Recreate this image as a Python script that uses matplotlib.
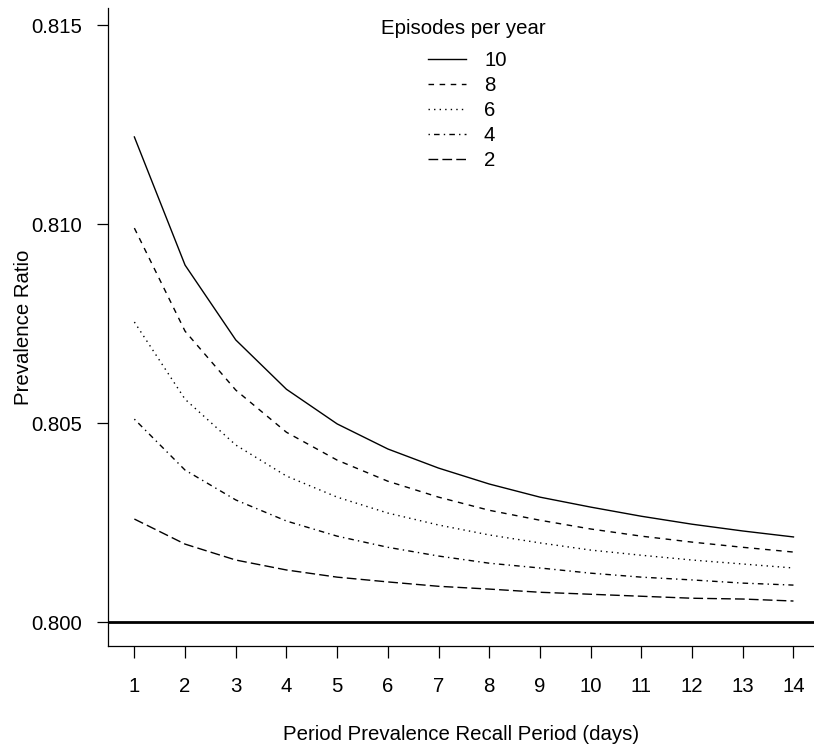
import numpy as np
import matplotlib
matplotlib.use('Agg')
import matplotlib.pyplot as plt

plt.rcParams['font.family'] = ['Liberation Sans', 'DejaVu Sans']

# recall period (days)
days = np.arange(1, 15)

# prevalence ratio for each number of episodes per year
pr_10 = [0.81219, 0.80897, 0.80709, 0.80585, 0.80498, 0.80435, 0.80387,
         0.80347, 0.80314, 0.80289, 0.80266, 0.80246, 0.80229, 0.80214]
pr_8 = [0.80990, 0.80731, 0.80583, 0.80477, 0.80407, 0.80354, 0.80314,
        0.80281, 0.80256, 0.80234, 0.80216, 0.80201, 0.80188, 0.80176]
pr_6 = [0.80754, 0.80560, 0.80445, 0.80367, 0.80314, 0.80274, 0.80244,
        0.80219, 0.80199, 0.80181, 0.80168, 0.80156, 0.80146, 0.80136]
pr_4 = [0.80510, 0.80382, 0.80307, 0.80254, 0.80216, 0.80188, 0.80166,
        0.80148, 0.80136, 0.80123, 0.80113, 0.80106, 0.80098, 0.80093]
pr_2 = [0.80259, 0.80196, 0.80156, 0.80131, 0.80113, 0.80101, 0.80090,
        0.80083, 0.80075, 0.80070, 0.80065, 0.80060, 0.80058, 0.80053]

labels = ['10', '8', '6', '4', '2']
yticks = [0.800, 0.805, 0.810, 0.815]
baseline = 0.800

# R style line types
styles = ['-', (0, (4, 4)), (0, (1, 3)), (0, (1, 3, 4, 3)), (0, (7, 3))]

fs = 14.7
fig = plt.figure(figsize=(8.14, 7.51), dpi=100)
ax = fig.add_axes([108 / 814, 105 / 751, 706 / 814, 638 / 751])

for vals, lab, ls in zip([pr_10, pr_8, pr_6, pr_4, pr_2], labels, styles):
    ax.plot(days, vals, color='black', lw=1.0, linestyle=ls, label=lab)

ax.axhline(baseline, color='black', lw=2.0)

ax.set_xlim(0.48, 14.405)
ax.set_ylim(0.79940, 0.81543)
ax.set_xticks(days)
ax.set_yticks(yticks)
ax.set_yticklabels(['%.3f' % v for v in yticks])

for s in ['top', 'right']:
    ax.spines[s].set_visible(False)
for s in ['left', 'bottom']:
    ax.spines[s].set_linewidth(0.9)

ax.tick_params(axis='x', length=8.5, width=0.9, pad=13.5, labelsize=fs)
ax.tick_params(axis='y', length=8, width=0.9, pad=10.5, labelsize=fs)

ax.set_xlabel('Period Prevalence Recall Period (days)', fontsize=fs, labelpad=21)
ax.set_ylabel('Prevalence Ratio', fontsize=fs, labelpad=-1)

# legend: title placed on its own, entries below
fig.text(463 / 814, 1 - 28 / 751, 'Episodes per year', fontsize=fs,
         ha='center', va='center')
leg = ax.legend(loc='upper left',
                bbox_to_anchor=(428 / 814, 1 - 51 / 751), bbox_transform=fig.transFigure,
                frameon=False, fontsize=fs,
                handlelength=38 / fs * 0.72, handletextpad=18 / fs * 0.72,
                labelspacing=0.3, borderpad=0, borderaxespad=0)

fig.savefig('out.png', dpi=100)
